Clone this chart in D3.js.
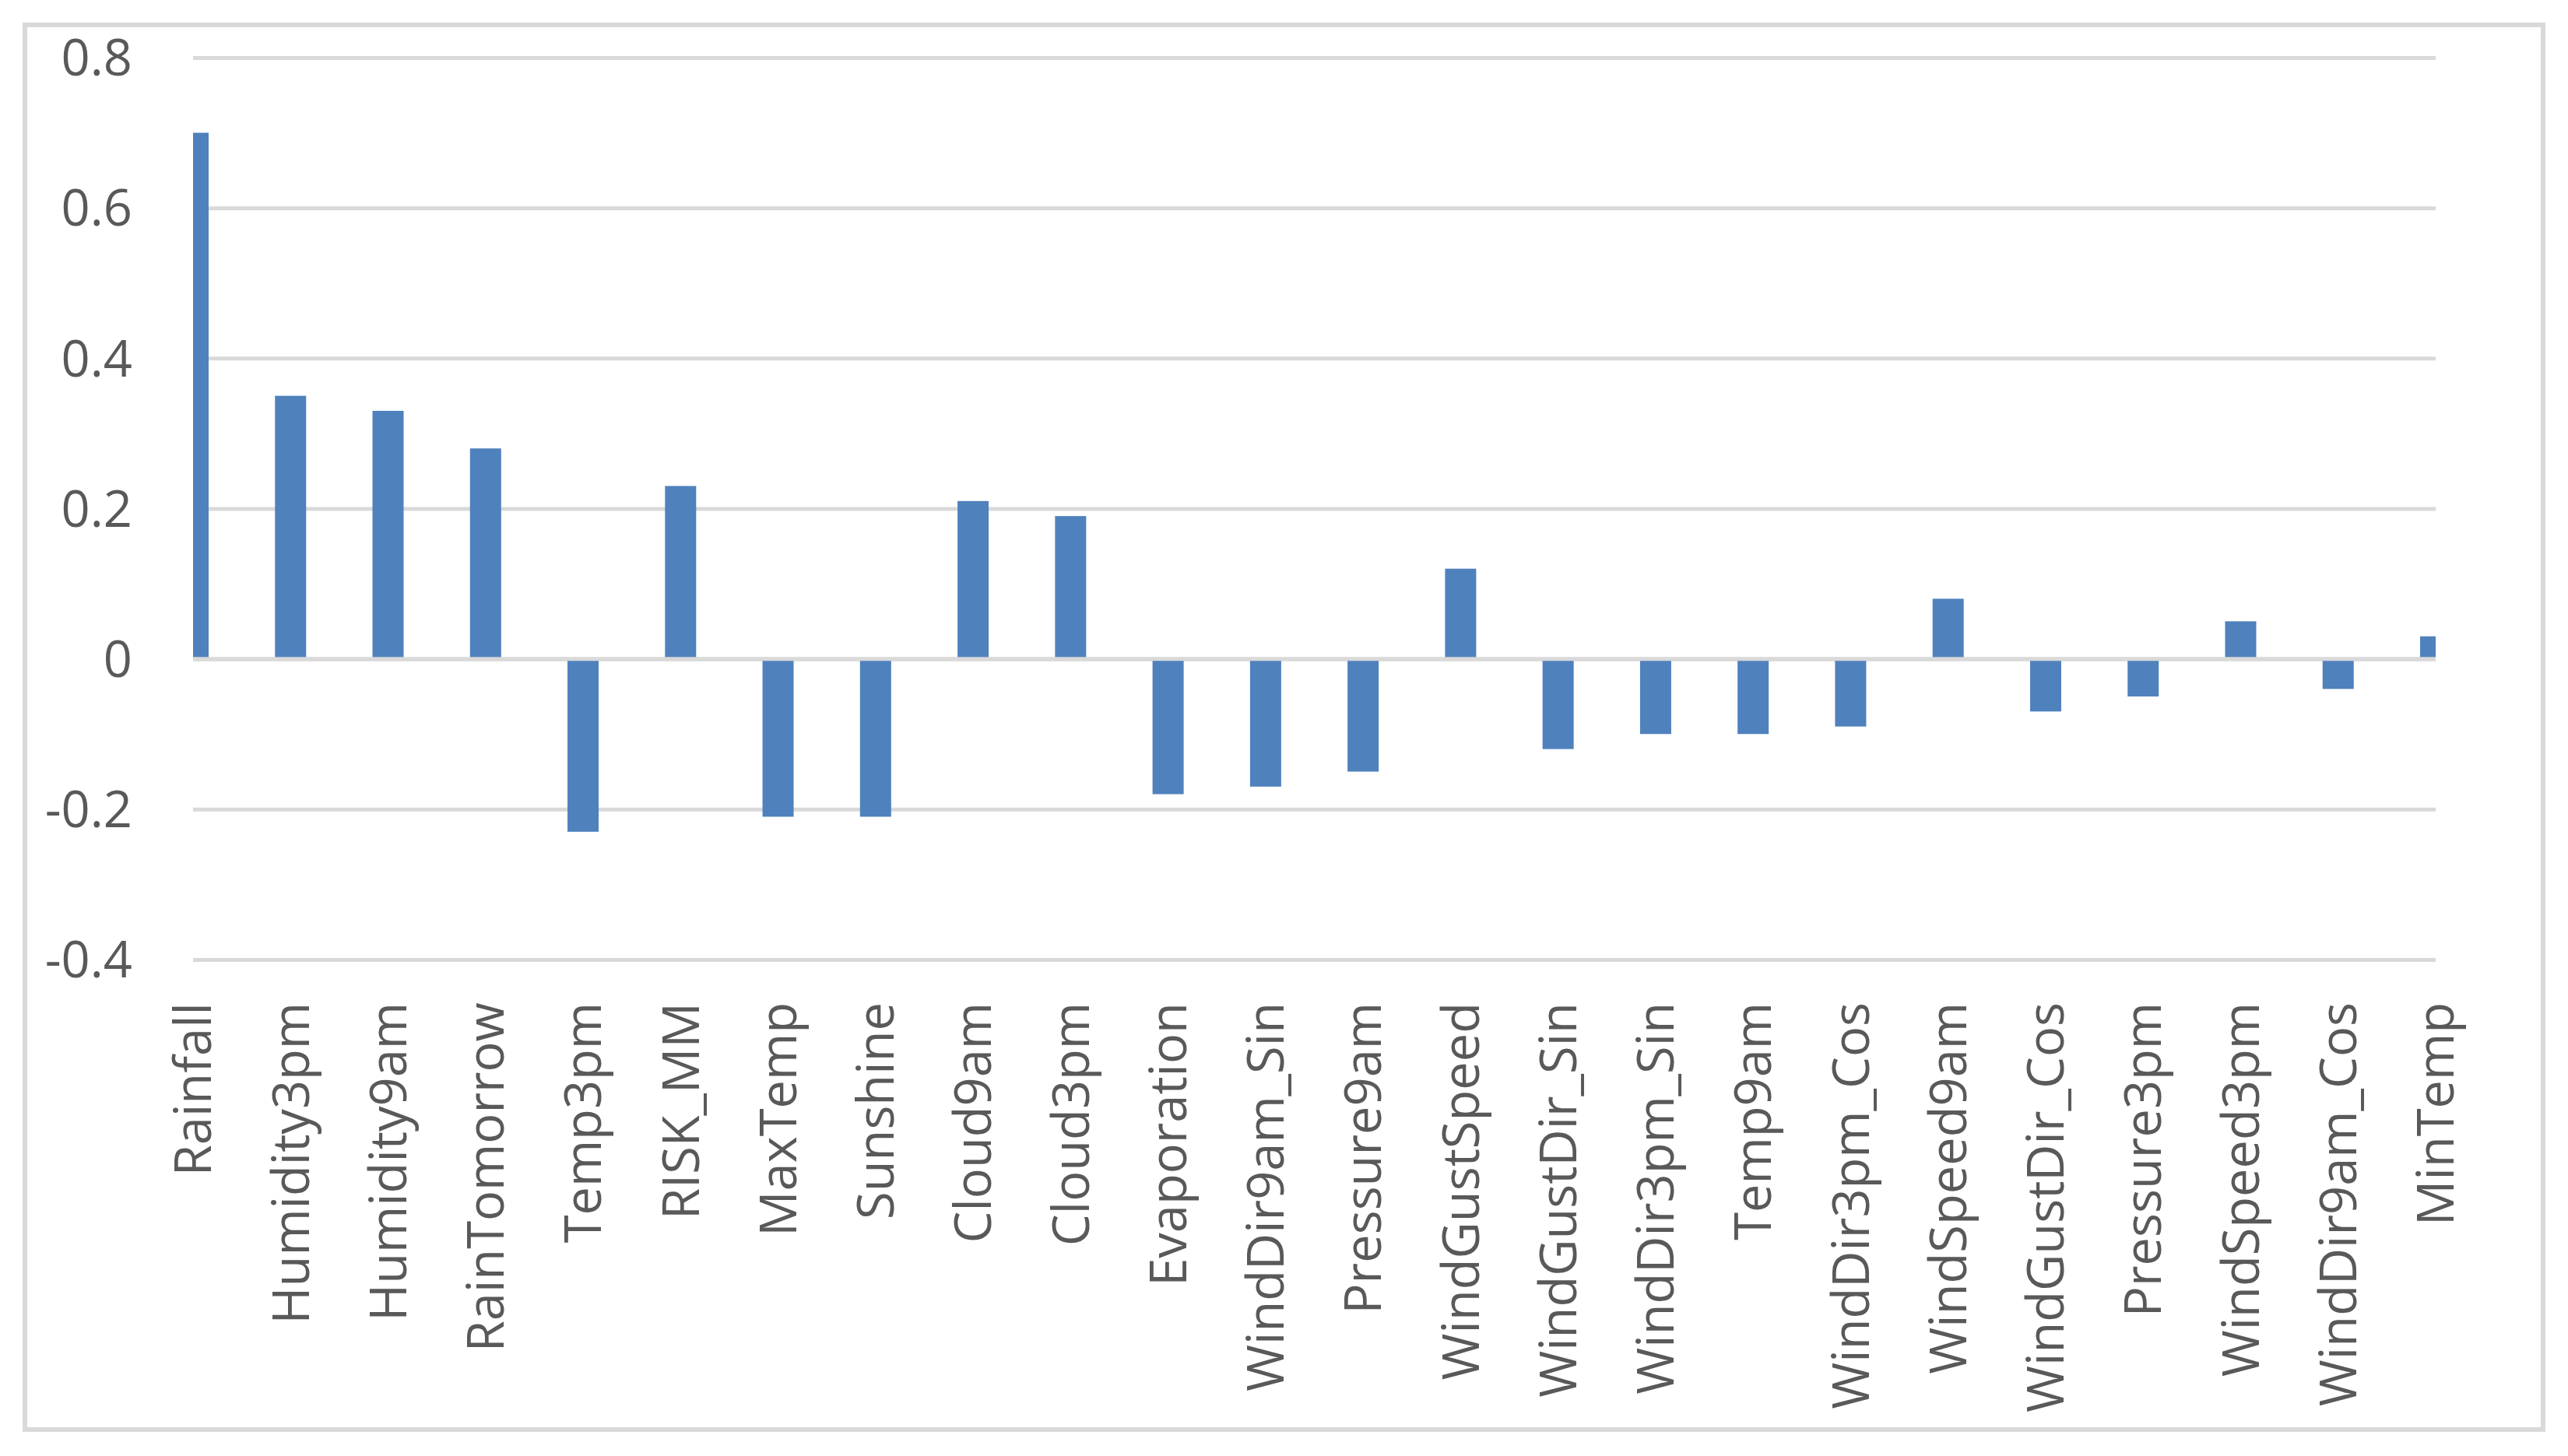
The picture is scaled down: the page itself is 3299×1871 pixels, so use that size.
<!DOCTYPE html>
<html><head><meta charset="utf-8">
<script src="https://cdn.jsdelivr.net/npm/d3@7/dist/d3.min.js"></script>
<style>html,body{margin:0;padding:0;background:#fff;}svg{display:block;}</style>
</head><body>
<svg id="chart" width="3299" height="1871"></svg>
<script>
const categories = ["Rainfall","Humidity3pm","Humidity9am","RainTomorrow","Temp3pm","RISK_MM","MaxTemp","Sunshine","Cloud9am","Cloud3pm","Evaporation","WindDir9am_Sin","Pressure9am","WindGustSpeed","WindGustDir_Sin","WindDir3pm_Sin","Temp9am","WindDir3pm_Cos","WindSpeed9am","WindGustDir_Cos","Pressure3pm","WindSpeed3pm","WindDir9am_Cos","MinTemp"];
const values = [0.70,0.35,0.33,0.28,-0.23,0.23,-0.21,-0.21,0.21,0.19,-0.18,-0.17,-0.15,0.12,-0.12,-0.10,-0.10,-0.09,0.08,-0.07,-0.05,0.05,-0.04,0.03];
const yTicks = [-0.4,-0.2,0,0.2,0.4,0.6,0.8];

(function(){
const svg = d3.select("#chart");
const W = 3299, H = 1871;
const pLeft = 248, pRight = 3129, pTop = 74, pBottom = 1233;
const font = "'Open Sans', 'Noto Sans', sans-serif";
const textColor = "#595959";
const gridColor = "#d9d9d9";
const fs = 65;

svg.append("rect").attr("x",0).attr("y",0).attr("width",W).attr("height",H).attr("fill","#fff");
svg.append("rect").attr("x",32).attr("y",32).attr("width",3235).attr("height",1805)
  .attr("fill","none").attr("stroke",gridColor).attr("stroke-width",6);

const x = d3.scalePoint().domain(categories).range([pLeft,pRight]).padding(0);
const y = d3.scaleLinear().domain([-0.4,0.8]).range([pBottom,pTop]);

svg.append("defs").append("clipPath").attr("id","plotclip")
  .append("rect").attr("x",pLeft).attr("y",0).attr("width",pRight-pLeft).attr("height",H);

const yAxis = d3.axisLeft(y).tickValues(yTicks).tickSize(-(pRight-pLeft)).tickPadding(80)
  .tickFormat(d => d===0 ? "0" : d.toFixed(1));
const gy = svg.append("g").attr("transform",`translate(${pLeft},0)`).call(yAxis);
gy.select(".domain").remove();
gy.selectAll(".tick line").attr("stroke",gridColor).attr("stroke-width",5);
gy.selectAll(".tick text").attr("fill",textColor).attr("font-family",font).attr("font-size",fs)
  .attr("x",170-pLeft).attr("text-anchor","end").attr("dy","0.35em");

const barW = 40;
svg.append("g").attr("clip-path","url(#plotclip)")
  .selectAll("rect").data(categories).join("rect")
  .attr("x", d => x(d) - barW/2)
  .attr("width", barW)
  .attr("y", (d,i) => y(Math.max(0, values[i])))
  .attr("height", (d,i) => Math.abs(y(values[i]) - y(0)))
  .attr("fill","#4f81bd");

svg.append("line").attr("x1",pLeft).attr("x2",pRight).attr("y1",y(0)).attr("y2",y(0))
  .attr("stroke",gridColor).attr("stroke-width",5);

const xAxis = d3.axisBottom(x).tickSize(0).tickPadding(0);
const gx = svg.append("g").attr("transform",`translate(0,${pBottom})`).call(xAxis);
gx.select(".domain").remove();
gx.selectAll(".tick text")
  .attr("fill",textColor).attr("font-family",font).attr("font-size",fs)
  .attr("transform","rotate(-90)")
  .attr("text-anchor","end")
  .attr("x",-55).attr("y",0).attr("dy","0.35em");
})();
</script>
</body></html>
